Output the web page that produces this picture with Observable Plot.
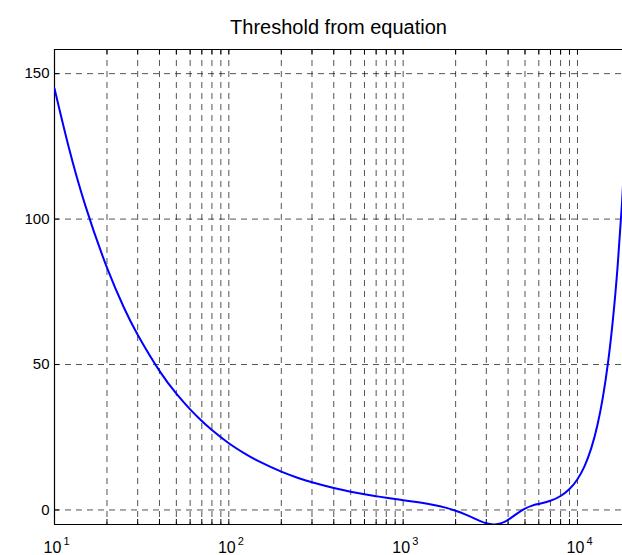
<!DOCTYPE html>
<html>
<head>
<meta charset="utf-8">
<script src="https://cdn.jsdelivr.net/npm/d3@7"></script>
<script src="https://cdn.jsdelivr.net/npm/@observablehq/plot@0.6"></script>
<style>
  html, body { margin: 0; padding: 0; background: #fff; }
  #chart svg { display: block; }
</style>
</head>
<body>
<div id="chart"></div>
<script>
// Absolute threshold of hearing (dB) against frequency (Hz)
const freqs = [10, 12, 15, 20, 25, 30, 40, 50, 60, 70, 80, 100, 125, 150, 200, 250, 300, 400,
  500, 600, 700, 800, 1000, 1250, 1500, 1750, 2000, 2250, 2500, 2750, 3000, 3300, 3500, 3750,
  4000, 4500, 5000, 5500, 6000, 7000, 8000, 9000, 10000, 11000, 12000, 13000, 14000, 15000,
  16000, 17000, 18000, 19000, 20000];
const threshold = [144.9, 125.3, 104.8, 83.3, 69.6, 60.2, 47.8, 40.0, 34.6, 30.6, 27.5, 22.95,
  19.2, 16.59, 13.17, 11.01, 9.51, 7.53, 6.28, 5.40, 4.73, 4.20, 3.37, 2.53, 1.71, 0.80, -0.25,
  -1.43, -2.64, -3.74, -4.57, -4.98, -4.86, -4.29, -3.39, -1.24, 0.48, 1.49, 2.08, 3.17, 4.79,
  7.19, 10.58, 15.18, 21.24, 29.03, 38.86, 51.04, 65.93, 83.90, 105.34, 130.66, 160.33];

const gridX = [10, 20, 30, 40, 50, 60, 70, 80, 90, 100, 200, 300, 400, 500, 600, 700, 800, 900,
  1000, 2000, 3000, 4000, 5000, 6000, 7000, 8000, 9000, 10000];
const gridY = [0, 50, 100, 150];
const decades = [10, 100, 1000, 10000];
const exponents = ["1", "2", "3", "4"];
const title = "Threshold from equation";

const xDomain = [10, 18125];
const yDomain = [-5, 158.3];

const W = 622, H = 555;
const mTop = 49, mBottom = 31, mLeft = 54, mRight = 0;
const frameH = H - mTop - mBottom;
const frameW = W - mLeft - mRight;
const tickLen = 5;

const data = freqs.map((f, i) => ({f, t: threshold[i]}));
const font = "Liberation Sans, Arial, Helvetica, sans-serif";
const gridStyle = {stroke: "#000", strokeWidth: 0.8, strokeDasharray: "6,5", strokeOpacity: 0.85};

const chart = Plot.plot({
  width: W,
  height: H,
  marginTop: mTop,
  marginBottom: mBottom,
  marginLeft: mLeft,
  marginRight: mRight,
  style: {fontFamily: font, background: "#fff", color: "#000"},
  x: {type: "log", domain: xDomain, axis: null},
  y: {domain: yDomain, axis: null},
  marks: [
    // dashed grid
    Plot.ruleX(gridX, {x: d => d, ...gridStyle}),
    Plot.ruleY(gridY, {y: d => d, ...gridStyle}),
    // inward tick marks, bottom and top
    Plot.ruleX(gridX, {x: d => d, insetTop: frameH - tickLen, stroke: "#000", strokeWidth: 1}),
    Plot.ruleX(gridX, {x: d => d, insetBottom: frameH - tickLen, stroke: "#000", strokeWidth: 1}),
    // inward tick marks, left
    Plot.ruleY(gridY, {y: d => d, insetRight: frameW - tickLen, stroke: "#000", strokeWidth: 1}),
    // axes box (left, bottom, top)
    Plot.ruleX([xDomain[0]], {stroke: "#000", strokeWidth: 1.2}),
    Plot.ruleY([yDomain[0]], {stroke: "#000", strokeWidth: 1.2}),
    Plot.ruleY([yDomain[1]], {stroke: "#000", strokeWidth: 1.2}),
    // y tick labels
    Plot.text(gridY, {y: d => d, frameAnchor: "left", text: d => String(d), dx: -5,
      fontSize: 15, textAnchor: "end", fill: "#000"}),
    // x tick labels as 10 with a raised exponent
    Plot.text(decades, {x: d => d, frameAnchor: "bottom", text: () => "10", dx: -2, dy: 28,
      fontSize: 16, textAnchor: "middle", lineAnchor: "bottom", fill: "#000"}),
    Plot.text(decades, {x: d => d, frameAnchor: "bottom", text: (d, i) => exponents[i], dx: 9, dy: 20,
      fontSize: 11, textAnchor: "start", lineAnchor: "bottom", fill: "#000"}),
    // threshold curve
    Plot.line(data, {x: "f", y: "t", stroke: "#0000ff", strokeWidth: 2, curve: "natural", clip: true}),
    // title
    Plot.text([title], {frameAnchor: "top", text: d => d, dy: -16, fontSize: 20,
      lineAnchor: "bottom", fill: "#000"})
  ]
});

document.getElementById("chart").appendChild(chart);
</script>
</body>
</html>
